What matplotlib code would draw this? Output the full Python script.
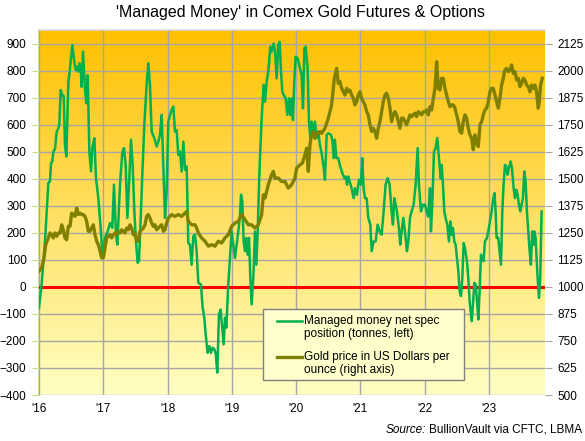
import numpy as np
import matplotlib
matplotlib.use("Agg")
import matplotlib.pyplot as plt
from matplotlib.lines import Line2D
from matplotlib.patches import Rectangle

plt.rcParams['font.family'] = ['Liberation Sans', 'DejaVu Sans']

# ---- data (decimal years) ----
mm_t = [
 0.000,0.041,0.093,0.145,0.171,0.187,0.207,0.223,0.249,0.275,0.301,0.316,0.337,0.363,0.384,0.404,0.425,0.456,0.482,0.518,
 0.550,0.570,0.596,0.612,0.627,0.648,0.664,0.684,0.715,0.736,0.757,0.783,0.809,0.829,0.861,0.886,0.923,0.959,0.990,1.026,
 1.068,1.104,1.140,1.166,1.198,1.218,1.260,1.296,1.322,1.348,1.374,1.400,1.431,1.457,1.483,1.509,1.534,1.555,1.586,1.607,
 1.638,1.674,1.700,1.726,1.752,1.794,1.830,1.856,1.882,1.908,1.934,1.960,1.985,2.011,2.053,2.089,2.115,2.141,2.167,2.193,
 2.219,2.245,2.271,2.297,2.322,2.348,2.374,2.400,2.426,2.452,2.478,2.519,2.545,2.571,2.592,2.623,2.649,2.675,2.701,2.727,
 2.747,2.773,2.799,2.825,2.851,2.872,2.893,2.913,2.944,2.970,2.996,3.022,3.048,3.074,3.100,3.126,3.142,3.162,3.183,3.204,
 3.224,3.245,3.266,3.287,3.307,3.333,3.359,3.380,3.401,3.427,3.463,3.494,3.515,3.541,3.567,3.598,3.618,3.650,3.670,3.696,
 3.722,3.743,3.764,3.784,3.805,3.836,3.862,3.888,3.909,3.929,3.950,3.971,3.991,4.022,4.059,4.085,4.106,4.127,4.147,4.178,
 4.199,4.220,4.240,4.266,4.292,4.318,4.344,4.370,4.396,4.422,4.448,4.474,4.500,4.541,4.562,4.583,4.603,4.624,4.655,4.686,
 4.717,4.748,4.769,4.790,4.810,4.831,4.862,4.893,4.914,4.945,4.977,5.008,5.028,5.049,5.070,5.096,5.122,5.153,5.174,5.205,
 5.236,5.267,5.298,5.329,5.360,5.391,5.422,5.453,5.484,5.505,5.526,5.547,5.567,5.598,5.619,5.640,5.666,5.692,5.723,5.744,
 5.770,5.795,5.827,5.858,5.889,5.909,5.941,5.972,
 6.003,6.029,6.055,6.081,6.096,6.117,6.143,6.169,6.195,6.221,6.247,6.262,6.283,6.304,6.324,6.350,6.376,6.397,6.418,6.438,
 6.459,6.480,6.501,6.522,6.542,6.563,6.584,6.605,6.625,6.656,6.677,6.698,6.729,6.750,6.770,6.791,6.812,6.833,6.853,6.874,
 6.895,6.915,6.936,6.967,6.988,7.014,7.040,7.066,7.086,7.102,7.117,7.143,7.164,7.185,7.206,7.226,7.247,7.268,7.288,7.309,
 7.335,7.356,7.382,7.403,7.423,7.444,7.465,7.486,7.506,7.527,7.548,7.568,7.589,7.610,7.631,7.651,7.672,7.693,7.703,7.724,
 7.739,7.755,7.776,7.796,7.817]
mm_val = [
 -77,9,168,384,390,457,464,500,510,574,587,600,728,707,707,525,482,753,808,894,
 833,802,814,796,827,808,740,870,734,679,783,500,427,513,550,402,328,218,107,181,
 205,236,218,378,193,156,378,500,513,451,255,378,544,451,279,168,89,95,279,415,
 600,747,827,747,574,550,519,537,562,636,451,255,353,611,648,667,574,580,488,500,
 427,537,433,445,162,156,82,187,193,132,15,9,-77,-114,-176,-244,-219,-244,-225,-231,
 -244,-317,-102,-84,-157,-213,-114,-151,9,107,205,156,107,156,205,267,341,316,168,132,
 181,119,181,33,-65,33,205,82,205,415,624,747,685,759,796,888,870,900,876,771,
 894,906,796,722,710,697,636,697,636,697,617,759,851,845,808,784,660,882,888,808,
 611,550,611,562,611,550,574,525,494,451,396,562,568,562,544,476,544,476,476,445,
 421,402,408,378,408,390,365,328,365,340,396,378,476,365,328,328,255,230,132,168,
 168,230,205,193,279,378,402,378,279,230,328,304,279,218,156,205,255,205,132,168,
 255,279,304,378,513,378,279,304,
 304,279,260,365,205,304,500,513,550,476,402,451,378,279,255,230,168,242,193,218,
 168,156,107,58,-16,-34,33,162,144,95,33,-53,-127,-65,15,9,-53,-121,-16,119,
 107,95,168,181,205,242,279,328,347,279,181,181,132,82,279,378,451,445,415,439,
 464,439,365,328,359,341,304,279,304,328,427,390,279,205,132,82,205,156,205,181,
 107,33,-41,33,279]

gold_t = [
 0.000,0.041,0.078,0.104,0.135,0.171,0.197,0.223,0.249,0.275,0.301,0.327,0.353,0.378,0.404,0.430,0.456,0.482,0.508,0.534,
 0.560,0.586,0.612,0.638,0.664,0.689,0.715,0.741,0.767,0.793,0.819,0.845,0.871,0.897,0.923,0.949,0.975,1.001,1.026,1.052,
 1.078,1.104,1.130,1.156,1.182,1.208,1.234,1.260,1.286,1.312,1.337,1.363,1.389,1.415,1.441,1.467,1.493,1.519,1.545,1.571,
 1.597,1.623,1.649,1.674,1.700,1.726,1.752,1.778,1.804,1.830,1.856,1.882,1.908,1.934,1.960,1.985,2.011,2.063,2.115,2.167,
 2.219,2.271,2.297,2.322,2.374,2.426,2.452,2.478,2.530,2.582,2.634,2.686,2.737,2.789,2.840,2.892,2.944,2.996,3.048,3.100,
 3.152,3.204,3.255,3.307,3.359,3.411,3.463,3.489,3.515,3.567,3.618,3.644,3.670,3.722,3.774,3.826,3.877,3.929,3.981,4.007,
 4.059,4.095,4.137,4.163,4.188,4.214,4.240,4.266,4.292,4.318,4.344,4.370,4.396,4.448,4.500,4.551,4.593,4.629,4.655,4.681,
 4.707,4.733,4.759,4.785,4.810,4.836,4.862,4.888,4.914,4.940,4.966,4.992,5.018,5.044,5.070,5.096,5.122,5.148,5.174,5.200,
 5.225,5.251,5.277,5.303,5.329,5.355,5.381,5.407,5.433,5.459,5.484,5.510,5.536,5.562,5.588,5.614,5.640,5.666,5.692,5.718,
 5.744,5.770,5.795,5.821,5.847,5.873,5.899,5.925,5.951,5.977,
 6.003,6.029,6.055,6.081,6.107,6.133,6.159,6.185,6.210,6.236,6.262,6.288,6.314,6.340,6.366,6.392,6.418,6.444,6.470,6.495,
 6.521,6.547,6.573,6.599,6.625,6.651,6.677,6.703,6.729,6.755,6.781,6.807,6.833,6.859,6.885,6.910,6.936,6.962,6.988,7.014,
 7.040,7.066,7.092,7.117,7.143,7.169,7.195,7.221,7.247,7.273,7.299,7.325,7.351,7.377,7.403,7.429,7.455,7.480,7.506,7.532,
 7.558,7.584,7.610,7.636,7.662,7.688,7.713,7.739,7.765,7.781,7.801,7.827]
gold_val = [
 1072,1088,1134,1195,1218,1249,1241,1226,1249,1234,1249,1249,1287,1264,1226,1218,1280,1280,1341,1334,
 1326,1364,1334,1341,1334,1334,1326,1303,1257,1257,1272,1287,1241,1211,1195,1165,1134,1134,1180,1226,
 1234,1241,1226,1241,1249,1241,1257,1249,1264,1257,1249,1272,1264,1287,1272,1241,1249,1211,1211,1257,
 1264,1272,1287,1326,1334,1318,1295,1280,1287,1264,1272,1280,1287,1257,1264,1295,1318,1334,1326,1334,
 1326,1341,1349,1303,1287,1287,1272,1249,1226,1211,1188,1195,1188,1211,1203,1226,1241,1280,1295,1303,
 1334,1311,1287,1287,1272,1287,1334,1426,1411,1472,1518,1534,1503,1503,1487,1487,1457,1472,1503,1549,
 1564,1572,1610,1641,1534,1657,1703,1718,1687,1710,1710,1718,1710,1733,1780,1841,1964,2010,1941,1949,
 1918,1902,1887,1918,1902,1910,1887,1872,1841,1856,1887,1902,1872,1856,1841,1810,1795,1749,1718,1733,
 1718,1687,1733,1764,1810,1856,1887,1895,1872,1826,1764,1795,1810,1795,1764,1733,1780,1780,1764,1749,
 1772,1795,1787,1795,1803,1787,1810,1803,1795,1810,
 1810,1818,1795,1833,1818,1872,1918,2041,1918,1910,1964,1964,1918,1887,1856,1833,1841,1841,1826,1795,
 1764,1718,1710,1764,1795,1780,1733,1703,1687,1634,1703,1664,1649,1749,1764,1795,1818,1826,1856,1902,
 1918,1918,1887,1856,1826,1872,1933,1964,2003,2010,1995,2003,2026,1987,1995,1956,1964,1926,1941,1964,
 1956,1933,1926,1902,1933,1918,1933,1902,1826,1856,1933,1964]

year_ticks = [2016, 2017, 2018, 2019, 2020, 2021, 2022, 2023]
year_labels = ["'16", "'17", "'18", "'19", "'20", "'21", "'22", "'23"]
left_ticks = list(range(-400, 1000, 100))
right_ticks = list(range(500, 2126, 125))
legend_labels = [["Managed money net spec", "position (tonnes, left)"],
                 ["Gold price in US Dollars per", "ounce (right axis)"]]

GREEN = '#00B050'
OLIVE = '#808000'

mm_x = [2016 + t for t in mm_t]
gold_x = [2016 + t for t in gold_t]

W, H = 585, 441
fig = plt.figure(figsize=(W / 100, H / 100), dpi=100)
fig.patch.set_facecolor('white')
L, R, T, B = 39, 545, 30, 395
ax = fig.add_axes([L / W, (H - B) / H, (R - L) / W, (B - T) / H])

XMIN, XMAX = 2016.0, 2023.87
YMIN, YMAX = -400, 950
ax.set_xlim(XMIN, XMAX)
ax.set_ylim(YMIN, YMAX)

# gradient background
top = np.array([255, 192, 0]) / 255.0
bot = np.array([255, 255, 196]) / 255.0
n = 256
f = np.linspace(0, 1, n)[:, None]
grad = (top[None, :] * (1 - f) + bot[None, :] * f)[:, None, :]
ax.imshow(grad, extent=[0, 1, 0, 1], transform=ax.transAxes, aspect='auto', zorder=0)
ax.set_facecolor('none')

ax.set_yticks(left_ticks)
ax.set_xticks(year_ticks)
ax.set_xticklabels(year_labels)
ax.grid(True, color='#A6A6A6', linewidth=1.0, zorder=1)
ax.set_axisbelow(False)
for gl in ax.get_xgridlines() + ax.get_ygridlines():
    gl.set_zorder(1)

ax.axhline(0, color='#FF0000', linewidth=2.2, zorder=3)
ax.plot(mm_x, mm_val, color=GREEN, linewidth=1.8, zorder=4)

for s in ['top', 'right', 'bottom']:
    ax.spines[s].set_visible(False)
ax.spines['left'].set_color('#C4E07A')
ax.spines['left'].set_linewidth(1.2)
ax.tick_params(axis='y', direction='out', length=5, color='#C4E07A', labelsize=8.5, pad=4, labelcolor='black')
ax.tick_params(axis='x', length=0, labelsize=8.5, pad=6)

ax.plot([0, 1], [1, 1], transform=ax.transAxes, color='#D9D9D9', linewidth=1.2, clip_on=False, zorder=5)

ax2 = ax.twinx()
ax2.set_ylim(1000 + 1.25 * YMIN, 1000 + 1.25 * YMAX)
ax2.set_yticks(right_ticks)
ax2.plot(gold_x, gold_val, color=OLIVE, linewidth=2.4, zorder=4)
for s in ['top', 'right', 'bottom', 'left']:
    ax2.spines[s].set_visible(False)
ax2.tick_params(axis='y', direction='out', length=5, color='#A6A6A6', labelsize=8.5, pad=4)

# legend box (drawn manually to match the layout: handle aligned with first text line)
def fx(px):
    return px / W

def fy(py):
    return 1 - py / H

fig.patches.append(Rectangle((fx(263), fy(380)), fx(464) - fx(263), fy(309) - fy(380),
                             transform=fig.transFigure, facecolor='#FFFFCC', edgecolor='#808080',
                             linewidth=1.0, zorder=10))
for (hy, col, lw, lines) in [(321, GREEN, 1.8, legend_labels[0]), (357, OLIVE, 2.4, legend_labels[1])]:
    fig.lines.append(Line2D([fx(277), fx(302)], [fy(hy), fy(hy)], transform=fig.transFigure,
                            color=col, linewidth=lw, zorder=11))
    for k, s in enumerate(lines):
        fig.text(fx(304), fy(hy + 13 * k), s, ha='left', va='center', fontsize=8.5, zorder=12)

fig.text(300 / W, 1 - 13 / H, "'Managed Money' in Comex Gold Futures & Options",
         ha='center', va='center', fontsize=11.5)

fig.canvas.draw()
t2 = fig.text(582 / W, 1 - 430 / H, "BullionVault via CFTC, LBMA", ha='right', va='center', fontsize=8.5)
fig.canvas.draw()
bb = t2.get_window_extent()
fig.text((bb.x0 - 3) / W, 1 - 430 / H, "Source:", ha='right', va='center', fontsize=8.5, style='italic')

fig.savefig('out.png', dpi=100)
